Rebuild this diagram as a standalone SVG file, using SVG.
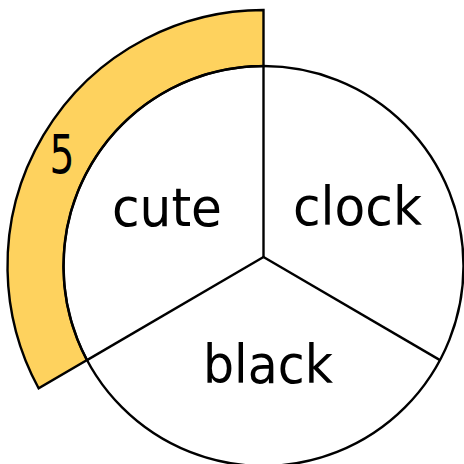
<svg xmlns="http://www.w3.org/2000/svg" width="464" height="464" viewBox="0 0 464 464">
<style>
.ln{fill:none;stroke:#000;stroke-width:2.4}
.t{font-family:"DejaVu Sans","Liberation Sans",sans-serif;font-size:53px;fill:#000;text-anchor:middle}
</style>
<rect width="464" height="464" fill="#fff"/>
<g id="arc">
<path d="M263.5,10 A256,256 0 0 0 38.6,388.3 L87,360.1 A200,200 0 0 1 263.5,66 Z" fill="#FED25E" stroke="#000" stroke-width="2.4" stroke-linejoin="miter"/>
<text class="t" x="62" y="173" font-size="46" textLength="25" lengthAdjust="spacingAndGlyphs">5</text>
</g>
<g id="circle">
<circle class="ln" cx="263.5" cy="266" r="200"/>
</g>
<g id="connectors">
<line class="ln" x1="263.5" y1="257" x2="263.5" y2="66"/>
<line class="ln" x1="263.5" y1="257" x2="87" y2="360.1"/>
<line class="ln" x1="263.5" y1="257" x2="440" y2="360.1"/>
</g>
<g id="cute"><text class="t" x="167" y="226" textLength="110" lengthAdjust="spacingAndGlyphs">cute</text></g>
<g id="clock"><text class="t" x="357.5" y="225" textLength="129" lengthAdjust="spacingAndGlyphs">clock</text></g>
<g id="black"><text class="t" x="268" y="383" textLength="130" lengthAdjust="spacingAndGlyphs">black</text></g>
</svg>
